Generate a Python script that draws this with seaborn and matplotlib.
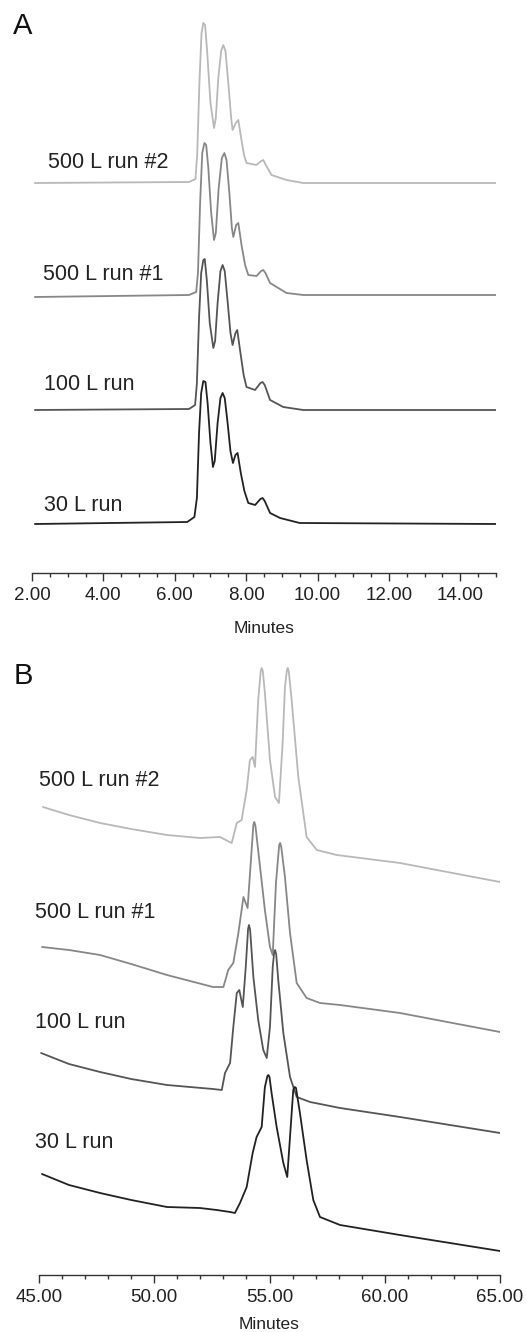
import matplotlib
matplotlib.use("Agg")
import matplotlib.pyplot as plt
from matplotlib.ticker import MultipleLocator, FormatStrFormatter
import numpy as np
import pandas as pd
import seaborn as sns

# ---------------- data ----------------
runs = ["500 L run #2", "500 L run #1", "100 L run", "30 L run"]

# Panel A: time (min) and stacked detector signal (arbitrary units)
a_t_500_2 = [2.08, 6.40, 6.58, 6.63, 6.69, 6.75, 6.80, 6.85, 6.91, 7.00, 7.10, 7.15, 7.22, 7.30, 7.36, 7.42,
             7.50, 7.58, 7.62, 7.71, 7.78, 7.86, 7.94, 8.01, 8.29, 8.42, 8.48, 8.55, 8.71, 9.13, 9.60, 15.0]
a_y_500_2 = [390, 391, 394, 420, 490, 540, 550, 548, 520, 470, 445, 455, 495, 522, 528, 522,
             490, 455, 443, 450, 453, 435, 418, 410, 408, 412, 413, 408, 398, 393, 390, 390]
a_t_500_1 = [2.08, 6.40, 6.60, 6.65, 6.71, 6.77, 6.83, 6.88, 6.94, 7.02, 7.10, 7.15, 7.23, 7.32, 7.39, 7.45,
             7.53, 7.60, 7.64, 7.72, 7.78, 7.87, 7.97, 8.06, 8.29, 8.42, 8.48, 8.54, 8.67, 9.13, 9.60, 15.0]
a_y_500_1 = [276, 278, 281, 300, 370, 420, 430, 428, 405, 360, 333, 340, 385, 415, 420, 413,
             380, 345, 336, 348, 350, 328, 308, 298, 297, 302, 303, 300, 290, 280, 278, 278]
a_t_100 = [2.08, 6.40, 6.57, 6.62, 6.68, 6.74, 6.80, 6.84, 6.90, 6.98, 7.08, 7.13, 7.20, 7.28, 7.34, 7.40,
           7.48, 7.56, 7.62, 7.70, 7.75, 7.84, 7.93, 8.01, 8.25, 8.40, 8.46, 8.52, 8.67, 9.04, 9.60, 15.0]
a_y_100 = [163, 164, 168, 190, 255, 300, 313, 314, 292, 250, 225, 232, 270, 302, 308, 302,
           272, 240, 228, 240, 243, 220, 198, 186, 183, 190, 191, 188, 173, 166, 163, 163]
a_t_30 = [2.08, 6.35, 6.55, 6.62, 6.68, 6.74, 6.80, 6.86, 6.92, 7.00, 7.07, 7.12, 7.20, 7.28, 7.34, 7.40,
          7.48, 7.56, 7.63, 7.70, 7.76, 7.85, 7.95, 8.06, 8.25, 8.40, 8.46, 8.52, 8.67, 8.95, 9.50, 15.0]
a_y_30 = [49, 51, 56, 75, 140, 180, 192, 191, 170, 130, 106, 112, 150, 175, 180, 175,
          150, 122, 110, 118, 120, 100, 82, 70, 68, 74, 75, 72, 60, 55, 50, 49]

# Panel B
b_t_500_2 = [45.17, 46.30, 47.65, 49.00, 50.55, 51.98, 52.85, 53.36, 53.58, 53.79, 54.01, 54.15, 54.27, 54.37,
             54.51, 54.62, 54.66, 54.71, 54.80, 55.02, 55.24, 55.41, 55.57, 55.67, 55.75, 55.79, 55.84,
             55.96, 56.25, 56.61, 57.05, 57.92, 60.66, 65.0]
b_y_500_2 = [468, 460, 452, 446, 440, 437, 438, 432, 452, 455, 485, 515, 518, 508,
             575, 604, 607, 604, 582, 515, 478, 472, 532, 588, 604, 607, 603,
             575, 498, 438, 425, 420, 412, 393]
b_t_500_1 = [45.13, 46.30, 47.65, 49.00, 50.55, 52.55, 53.00, 53.21, 53.43, 53.65, 53.79, 53.87, 54.05,
             54.30, 54.34, 54.39, 54.59, 54.80, 55.02, 55.14, 55.28, 55.42, 55.46, 55.51, 55.67, 55.89,
             56.18, 56.61, 57.19, 58.06, 60.66, 65.0]
b_y_500_1 = [328, 325, 320, 311, 300, 288, 288, 305, 312, 342, 365, 378, 367,
             450, 453, 449, 408, 365, 328, 320, 392, 430, 432, 428, 398, 342,
             292, 277, 272, 270, 262, 243]
b_t_100 = [45.09, 46.30, 47.65, 49.00, 50.55, 52.55, 52.93, 53.07, 53.29, 53.43, 53.58, 53.69, 53.84, 53.97,
           54.07, 54.11, 54.16, 54.30, 54.51, 54.73, 54.88, 55.02, 55.14, 55.20, 55.24, 55.29, 55.38,
           55.60, 55.89, 56.18, 56.76, 58.06, 60.66, 65.0]
b_y_100 = [222, 211, 203, 196, 190, 186, 185, 202, 212, 248, 282, 285, 268, 308,
           346, 350, 345, 298, 255, 225, 217, 248, 308, 322, 325, 321, 295,
           242, 198, 178, 173, 167, 158, 142]
b_t_30 = [45.13, 46.30, 47.65, 49.00, 50.55, 51.98, 52.71, 53.29, 53.50, 53.72, 54.01, 54.27, 54.44, 54.66,
          54.80, 54.91, 54.95, 55.00, 55.09, 55.31, 55.60, 55.77, 55.92, 56.03, 56.09, 56.15, 56.32,
          56.61, 56.90, 57.19, 58.06, 60.66, 65.0]
b_y_30 = [101, 90, 82, 75, 68, 67, 65, 63, 62, 72, 88, 122, 138, 148,
          188, 199, 200, 198, 182, 148, 112, 98, 148, 185, 188, 187, 162,
          115, 75, 58, 50, 40, 24]

a_ticks = [2, 4, 6, 8, 10, 12, 14]
b_ticks = [45, 50, 55, 60, 65]

# ---------------- build tables ----------------
def frame(ts, ys):
    rows = []
    for run, t, y in zip(runs, ts, ys):
        rows.append(pd.DataFrame({"Minutes": t, "Signal": y, "Run": run}))
    return pd.concat(rows, ignore_index=True)

df_a = frame([a_t_500_2, a_t_500_1, a_t_100, a_t_30], [a_y_500_2, a_y_500_1, a_y_100, a_y_30])
df_b = frame([b_t_500_2, b_t_500_1, b_t_100, b_t_30], [b_y_500_2, b_y_500_1, b_y_100, b_y_30])

palette = {"500 L run #2": "#b8b8b8", "500 L run #1": "#878787",
           "100 L run": "#555555", "30 L run": "#222222"}

sns.set_theme(style="white")
plt.rcParams["font.family"] = ["Liberation Sans", "DejaVu Sans"]

W, H = 526, 1332
fig = plt.figure(figsize=(W / 100, H / 100), dpi=100)

def px_axes(x0, x1, y_axis, y_top):
    return fig.add_axes([x0 / W, 1 - y_axis / H, (x1 - x0) / W, (y_axis - y_top) / H])

ax_a = px_axes(32, 496, 573, 10)
ax_b = px_axes(39, 500, 1275, 655)

def style(ax, xlim, ylim, minor, ticks, labelpad):
    ax.set_xlim(*xlim)
    ax.set_ylim(*ylim)
    ax.set_xticks(ticks)
    ax.xaxis.set_minor_locator(MultipleLocator(minor))
    ax.xaxis.set_major_formatter(FormatStrFormatter("%.2f"))
    ax.set_yticks([])
    ax.set_ylabel("")
    for s in ["left", "top", "right"]:
        ax.spines[s].set_visible(False)
    ax.spines["bottom"].set_color("#333333")
    ax.spines["bottom"].set_linewidth(1.0)
    ax.tick_params(axis="x", which="both", bottom=True, top=False)
    ax.tick_params(axis="x", which="major", direction="out", length=6, width=1.0,
                   color="#333333", labelsize=13.5, labelcolor="#222222", pad=4)
    ax.tick_params(axis="x", which="minor", direction="out", length=3, width=1.0, color="#333333")
    ax.set_xlabel("Minutes", fontsize=12.5, color="#222222", labelpad=labelpad)
    ax.set_facecolor("none")

sns.lineplot(data=df_a, x="Minutes", y="Signal", hue="Run", palette=palette, estimator=None,
             sort=False, legend=False, ax=ax_a, linewidth=1.3)
sns.lineplot(data=df_b, x="Minutes", y="Signal", hue="Run", palette=palette, estimator=None,
             sort=False, legend=False, ax=ax_b, linewidth=1.3)

style(ax_a, (2, 15), (0, 563), 0.5, a_ticks, 12)
style(ax_b, (45, 65), (0, 620), 1, b_ticks, 8)

# run labels
for run, (x, y) in zip(runs, [(2.45, 411), (2.31, 298), (2.34, 188), (2.34, 67)]):
    ax_a.text(x, y, run, fontsize=15.5, color="#222222", va="center", ha="left")
for run, (x, y) in zip(runs, [(45.0, 495), (44.83, 363), (44.83, 252), (44.83, 132)]):
    ax_b.text(x, y, run, fontsize=15.5, color="#222222", va="center", ha="left", clip_on=False)

fig.text(13 / W, 1 - 12 / H, "A", fontsize=21, va="top", ha="left", color="#111111")
fig.text(14 / W, 1 - 662 / H, "B", fontsize=21, va="top", ha="left", color="#111111")

fig.savefig("out.png", dpi=100, facecolor="white")
